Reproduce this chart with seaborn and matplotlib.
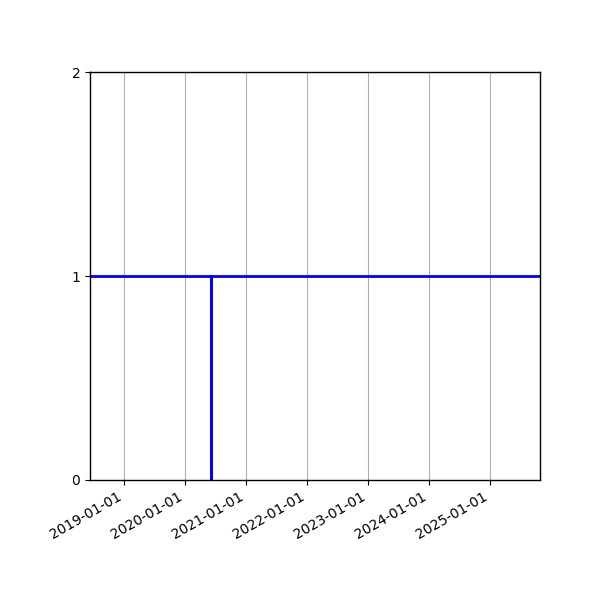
import matplotlib
matplotlib.use("Agg")
import matplotlib.pyplot as plt
import matplotlib.dates as mdates
import seaborn as sns
import pandas as pd

sns.set_style("ticks")
plt.rcParams['font.family'] = ['DejaVu Sans']

# step in the series: flat at 1, drops to 0 at the event date and back
dates = ["2018-06-10", "2020-06-05", "2020-06-05", "2020-06-05", "2025-10-28"]
values = [1, 1, 0, 1, 1]
x_range = ["2018-06-10", "2025-10-28"]
y_ticks = [0, 1, 2]

df = pd.DataFrame({"date": pd.to_datetime(dates), "value": values})

fig, ax = plt.subplots(figsize=(6, 6), dpi=100)
sns.lineplot(x="date", y="value", data=df, ax=ax, sort=False,
             color="blue", linewidth=2, estimator=None)

ax.set_xlim(pd.to_datetime(x_range[0]), pd.to_datetime(x_range[1]))
ax.set_ylim(0, 2)
ax.set_yticks(y_ticks)
ax.xaxis.set_major_locator(mdates.YearLocator())
ax.xaxis.set_major_formatter(mdates.DateFormatter("%Y-%m-%d"))
ax.grid(axis="x", color="#b0b0b0", linewidth=0.8)
ax.grid(axis="y", visible=False)
ax.set_xlabel("")
ax.set_ylabel("")
for s in ax.spines.values():
    s.set_color("black")
    s.set_linewidth(1)
ax.tick_params(colors="black", length=3.5, width=0.8)
fig.autofmt_xdate()
fig.subplots_adjust(left=0.15, right=0.9, top=0.88, bottom=0.2)

plt.savefig("out.png")
plt.close()
